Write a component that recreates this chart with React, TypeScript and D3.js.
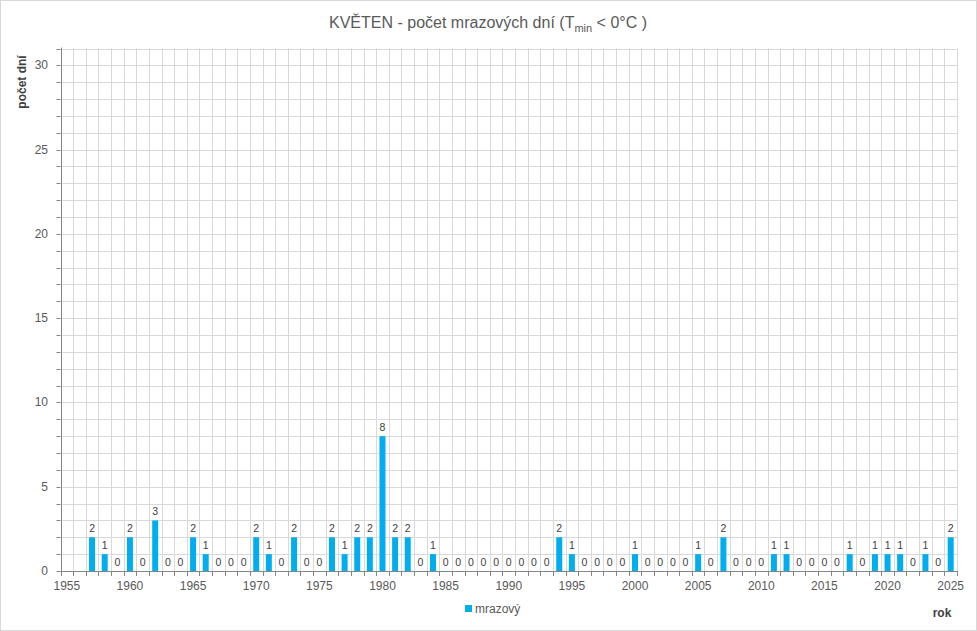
import React from "react";
import * as d3 from "d3";

const years: number[] = d3.range(1957, 2026);
const values: number[] = [
  2, 1, 0, 2, 0, 3, 0, 0, 2, 1, // 1957-1966
  0, 0, 0, 2, 1, 0, 2, 0, 0, 2, // 1967-1976
  1, 2, 2, 8, 2, 2, 0, 1, 0, 0, // 1977-1986
  0, 0, 0, 0, 0, 0, 0, 2, 1, 0, // 1987-1996
  0, 0, 0, 1, 0, 0, 0, 0, 1, 0, // 1997-2006
  2, 0, 0, 0, 1, 1, 0, 0, 0, 0, // 2007-2016
  1, 0, 1, 1, 1, 0, 1, 0, 2,    // 2017-2025
];
const xTickLabels: number[] = [1955, 1960, 1965, 1970, 1975, 1980, 1985, 1990, 1995, 2000, 2005, 2010, 2015, 2020, 2025];
const yTickLabels: number[] = [0, 5, 10, 15, 20, 25, 30];
const seriesName = "mrazový";

const W = 977, H = 631;
const left = 60.5, right = 957, top = 48.5, bottom = 571;
const FONT = "'Liberation Sans', Arial, sans-serif";
const BAR = "#00AEEF";
const GRID = "#d9d9d9";
const AXIS = "#868686";
const TEXT = "#595959";

export default function App() {
  const x = d3.scaleLinear().domain([1954.5, 2025.5]).range([left, right]);
  const y = d3.scaleLinear().domain([0, 31]).range([bottom, top]);
  const halfYears = d3.range(1954.5, 2026, 1);
  const yMinor = d3.range(0, 32, 1);
  const bw = 6;
  return (
    <svg width={W} height={H} style={{ position: "fixed", left: 0, top: 0, background: "#fff" }} fontFamily={FONT}>
      <rect x={0.5} y={0.5} width={W - 1} height={H - 1} fill="#fff" stroke="#d9d9d9" />
      {/* grid */}
      {yMinor.map((v) => (
        <line key={"hg" + v} x1={left} x2={right} y1={Math.round(y(v)) + 0.5} y2={Math.round(y(v)) + 0.5} stroke={GRID} strokeWidth={1} />
      ))}
      {halfYears.map((v) => (
        <line key={"vg" + v} x1={Math.round(x(v)) + 0.5} x2={Math.round(x(v)) + 0.5} y1={top} y2={bottom} stroke={GRID} strokeWidth={1} />
      ))}
      {/* bars */}
      {years.map((yr, i) => (
        <rect key={"b" + yr} x={x(yr) - bw / 2} y={y(values[i])} width={bw} height={bottom - y(values[i])} fill={BAR} />
      ))}
      {/* value labels */}
      {years.map((yr, i) => (
        <text key={"l" + yr} x={x(yr)} y={y(values[i]) - 5} textAnchor="middle" fontSize={10.5} fill="#404040">{values[i]}</text>
      ))}
      {/* axes */}
      <line x1={Math.round(left) + 0.5} x2={Math.round(left) + 0.5} y1={top - 1} y2={bottom} stroke={AXIS} />
      <line x1={left} x2={right} y1={bottom + 0.5} y2={bottom + 0.5} stroke={AXIS} />
      {yMinor.map((v) => (
        <line key={"yt" + v} x1={left - 4} x2={left} y1={Math.round(y(v)) + 0.5} y2={Math.round(y(v)) + 0.5} stroke={AXIS} />
      ))}
      {halfYears.map((v) => (
        <line key={"xt" + v} x1={Math.round(x(v)) + 0.5} x2={Math.round(x(v)) + 0.5} y1={bottom} y2={bottom + 5} stroke={AXIS} />
      ))}
      {yTickLabels.map((v) => (
        <text key={"yl" + v} x={48} y={y(v) + 4} textAnchor="end" fontSize={12} fill={TEXT}>{v}</text>
      ))}
      {xTickLabels.map((v) => (
        <text key={"xl" + v} x={x(v)} y={590} textAnchor="middle" fontSize={12} fill={TEXT}>{v}</text>
      ))}
      {/* title */}
      <text x={488} y={28} textAnchor="middle" fontSize={16} fill={TEXT}>
        KVĚTEN - počet mrazových dní (T<tspan fontSize={11} dy={4}>min</tspan><tspan dy={-4}> &lt; 0°C )</tspan>
      </text>
      {/* axis titles */}
      <text transform="translate(26,82) rotate(-90)" textAnchor="middle" fontSize={12} fontWeight="bold" fill="#404040">počet dní</text>
      <text x={942} y={617} textAnchor="middle" fontSize={12} fontWeight="bold" fill="#404040">rok</text>
      {/* legend */}
      <rect x={465} y={605} width={7} height={7} fill={BAR} />
      <text x={475} y={613} fontSize={12} fill={TEXT}>{seriesName}</text>
    </svg>
  );
}
